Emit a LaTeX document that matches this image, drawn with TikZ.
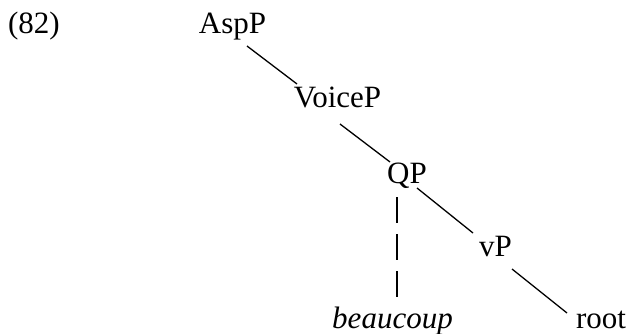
\documentclass[tikz,border=0pt]{standalone}
\usepackage{fontspec}
\setmainfont{Liberation Serif}
\begin{document}
\begin{tikzpicture}[x=1pt,y=-1pt,puu/.style={inner sep=0pt,anchor=base}]
\fontsize{31}{37}\selectfont
\useasboundingbox (0,0) rectangle (629,334);
\node[puu] (nro) at (34,34) {(82)};
\node[puu] (asp) at (232.5,34) {AspP};
\node[puu] (voice) at (337.5,108) {VoiceP};
\node[puu] (qp) at (407,183) {QP};
\node[puu] (vp) at (495.5,256) {vP};
\node[puu] (beau) at (392.5,328) {\textit{beaucoup}};
\node[puu] (root) at (601,328) {root};
\path[draw,line width=1.3pt] ([shift={(14.5,12)}]asp.base) -- ([shift={(-40.5,-24)}]voice.base);
\path[draw,line width=1.3pt] ([shift={(2.5,16)}]voice.base) -- ([shift={(-17,-21)}]qp.base);
\path[draw,line width=1.3pt] ([shift={(10,5)}]qp.base) -- ([shift={(-22.5,-23)}]vp.base);
\path[draw,line width=1.3pt] ([shift={(16.5,13)}]vp.base) -- ([shift={(-34,-15)}]root.base);
\path[draw,line width=1.3pt,dash pattern=on 26pt off 11pt] ([shift={(-10,14)}]qp.base) -- ([shift={(4.5,-31)}]beau.base);
\end{tikzpicture}
\end{document}
